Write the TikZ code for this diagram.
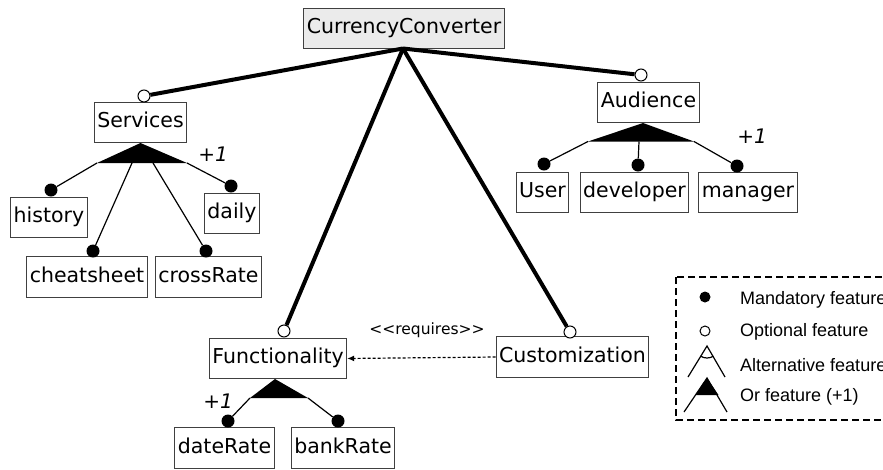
\documentclass[tikz,border=0pt]{standalone}
\usepackage{fontspec}
\setmainfont{DejaVu Sans}
\newfontfamily\legendfont{Liberation Sans}
\usepackage{tikz}
\usetikzlibrary{arrows.meta}

\tikzset{
  feat/.style={draw=black!75,line width=1.1pt,inner xsep=3pt,inner ysep=10.5pt,
    text height=15pt,text depth=4.5pt,font=\fontsize{20.5}{24}\selectfont},
  mand/.style={circle,fill=black,inner sep=0pt,minimum size=13pt},
  opt/.style={circle,draw=black,fill=white,line width=1pt,inner sep=0pt,minimum size=12pt},
  bold/.style={line width=4pt},
  thin/.style={line width=1.2pt},
  plusone/.style={font=\fontsize{20}{24}\selectfont\itshape},
}

\begin{document}
\begin{tikzpicture}[x=1pt,y=-1pt]
		\useasboundingbox (0,0) rectangle (883,469);
		\clip (0,0) rectangle (883,469);
		% features
		\node[feat,fill=black!8] (root) at (404,28.5) {CurrencyConverter};
		\node[feat] (services) at (140.5,122.5) {Services};
		\node[feat] (history) at (49,217.5) {history};
		\node[feat] (daily) at (232,213.5) {daily};
		\node[feat] (cheatsheet) at (87,277) {cheatsheet};
		\node[feat] (crossrate) at (208.5,277) {crossRate};
		\node[feat] (audience) at (648.5,102.5) {Audience};
		\node[feat] (user) at (542.5,192.5) {User};
		\node[feat] (developer) at (634.5,192.5) {developer};
		\node[feat] (manager) at (748,192.5) {manager};
		\node[feat] (functionality) at (278,358.5) {Functionality};
		\node[feat] (daterate) at (224.5,448) {dateRate};
		\node[feat] (bankrate) at (343,448) {bankRate};
		\node[feat] (customization) at (572.5,357) {Customization};
		% optional markers
		\node[opt] (o-services) at (144,96) {};
		\node[opt] (o-audience) at (641,75) {};
		\node[opt] (o-functionality) at (284,331) {};
		\node[opt] (o-customization) at (570,332) {};
		% mandatory markers
		\node[mand] (m-history) at (51,190) {};
		\node[mand] (m-cheatsheet) at (93,251) {};
		\node[mand] (m-crossrate) at (206,251) {};
		\node[mand] (m-daily) at (231,186) {};
		\node[mand] (m-user) at (544,164) {};
		\node[mand] (m-developer) at (638,165) {};
		\node[mand] (m-manager) at (737,166) {};
		\node[mand] (m-daterate) at (228,421) {};
		\node[mand] (m-bankrate) at (338,421) {};
		% root edges
		\coordinate (r) at (403,48.5);
		\foreach \f in {services,audience,functionality,customization}
			\draw[bold] (r) -- (o-\f);
		% or groups
		\coordinate (s-top) at (140.5,143);
		\coordinate (s-l) at (97,163);
		\coordinate (s-r) at (187,163);
		\fill (s-top) -- (s-l) -- (s-r) -- cycle;
		\draw[thin] (s-l) -- (m-history);
		\draw[thin] (132,163) coordinate (s-a) (s-a) -- (m-cheatsheet);
		\draw[thin] (153,163) coordinate (s-b) (s-b) -- (m-crossrate);
		\draw[thin] (s-r) -- (m-daily);
		\node[plusone] (s-one) at (213,154) {+1};
		\coordinate (a-top) at (643,123);
		\coordinate (a-l) at (588,141.5);
		\coordinate (a-r) at (694,141.5);
		\fill (a-top) -- (a-l) -- (a-r) -- cycle;
		\draw[thin] (a-l) -- (m-user);
		\draw[thin] (639,141.5) coordinate (a-m) (a-m) -- (m-developer);
		\draw[thin] (a-r) -- (m-manager);
		\node[plusone] (a-one) at (752,136) {+1};
		\coordinate (f-top) at (275,379);
		\coordinate (f-l) at (250,398);
		\coordinate (f-r) at (308,398);
		\fill (f-top) -- (f-l) -- (f-r) -- cycle;
		\draw[thin] (f-l) -- (m-daterate);
		\draw[thin] (f-r) -- (m-bankrate);
		\node[plusone] (f-one) at (218,401) {+1};
		% constraint
		\draw[thin,densely dashed,-{Latex[length=7pt,width=6pt]}] (customization.west) -- (functionality.east);
		\node[font=\fontsize{15.5}{18}\selectfont] (requires) at (427,330) {{<}{<}requires{>}{>}};
		% legend
		\draw[line width=2.5pt,dash pattern=on 7pt off 4pt] (676,277) rectangle (900,420);
		\fill (705,297) circle (5.5);
		\draw[line width=1pt] (705,331) circle (5);
		\draw[thin] (688,377) -- (707,346) -- (725,377);
		\draw[thin] ([shift={(58.5:12)}]707,346) arc (58.5:121.5:12);
		\draw[thin] (684,412) -- (707,378) -- (727,412);
		\fill (707,378) -- (695.5,395) -- (718.5,395) -- cycle;
		\begin{scope}[every node/.style={anchor=west,inner sep=0pt,font=\legendfont\fontsize{18}{21}\selectfont}]
			\node (l-mand) at (740,300) {Mandatory feature};
			\node (l-opt) at (740,332) {Optional feature};
			\node (l-alt) at (740,365) {Alternative feature};
			\node (l-or) at (740,397) {Or feature (+1)};
		\end{scope}
	\end{tikzpicture}
\end{document}
